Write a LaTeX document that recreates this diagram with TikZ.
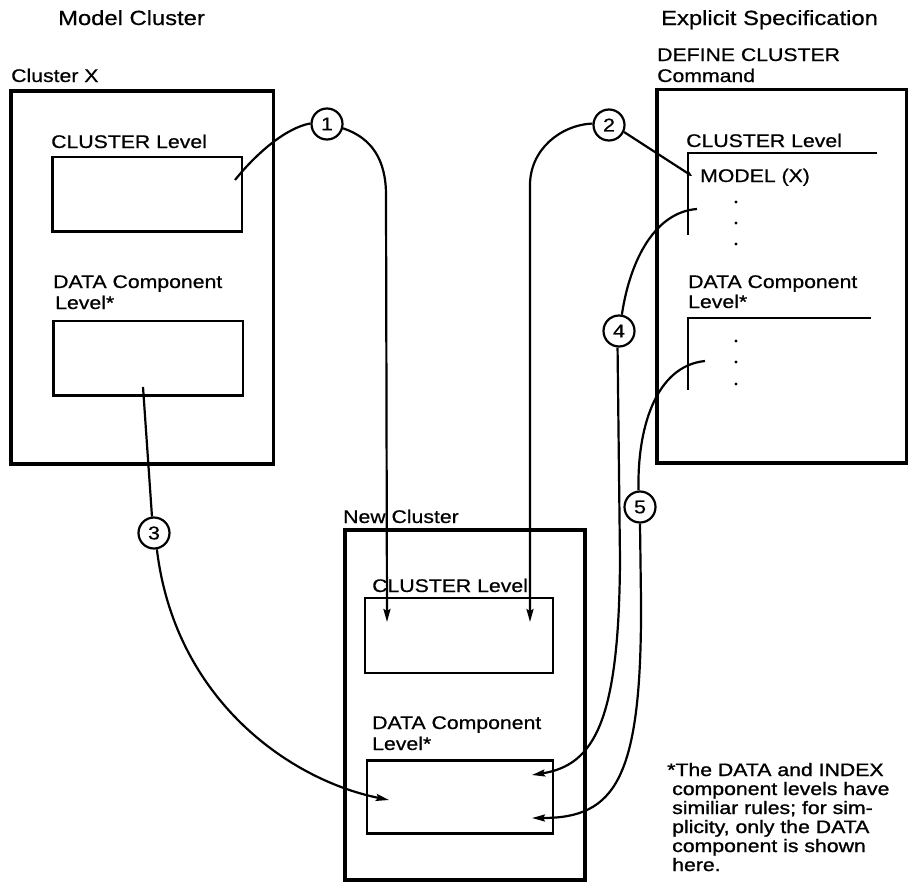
\documentclass[tikz,border=0pt]{standalone}
\usepackage{fontspec}
\setmainfont[FakeStretch=1.16,FakeBold=0.6]{Liberation Sans}
\newfontfamily\notefont[FakeStretch=1.18,FakeBold=1.2]{Liberation Sans}
\usetikzlibrary{arrows.meta}
\tikzset{
  outerbox/.style={draw, line width=3.8pt, inner sep=0, outer sep=0, anchor=north west},
  innerbox/.style={draw, line width=2.6pt, inner sep=0, outer sep=0, anchor=north west},
  bracketline/.style={line width=2.3pt},
  conn/.style={line width=2.2pt},
  tipbig/.style={-{Stealth[length=13pt,width=7pt,inset=2pt]}},
  tipsmall/.style={-{Stealth[length=5pt,width=4.5pt]}},
  num/.style={draw, circle, line width=2.2pt, minimum size=31pt, inner sep=0, fill=white,
    font=\fontsize{18.5}{20}\selectfont},
  ttl/.style={anchor=base west, inner sep=0, font=\fontsize{20.5}{24}\selectfont},
  lbl/.style={anchor=base west, inner sep=0, font=\fontsize{18.3}{21}\selectfont},
  note/.style={anchor=base west, inner sep=0, font=\notefont\fontsize{18}{19}\selectfont},
}
\begin{document}
\begin{tikzpicture}[x=1pt,y=-1pt]
\fill[white] (0,0) rectangle (915,886);
\useasboundingbox (0,0) rectangle (915,886);

% titles
\node[ttl] (tmodel) at (58,25) {Model Cluster};
\node[ttl] (texpl) at (661,25) {Explicit Specification};

% Cluster X
\node[lbl] (lclx) at (11,82) {Cluster X};
\node[outerbox, minimum width=262.5pt, minimum height=373pt] (cx) at (11,91) {};
\node[lbl] (lcxc) at (51,148) {CLUSTER Level};
\node[innerbox, minimum width=189.5pt, minimum height=74.5pt] (cxc) at (52.5,157) {};
\node[lbl] (lcxd1) at (53,288) {DATA Component};
\node[lbl] (lcxd2) at (55,309) {Level*};
\node[innerbox, minimum width=189.5pt, minimum height=74.5pt] (cxd) at (53.5,321) {};

% DEFINE CLUSTER command
\node[lbl] (ldef1) at (657,61) {DEFINE CLUSTER};
\node[lbl] (ldef2) at (657,82) {Command};
\node[outerbox, minimum width=249.5pt, minimum height=373.5pt] (def) at (657,89.5) {};
\node[lbl] (ldefc) at (686,147) {CLUSTER Level};
\draw[bracketline] (877,153) -- (688,153) -- (688,235);
\node[lbl] (lmodel) at (700,182) {MODEL (X)};
\foreach \yy in {202,223,244} \fill (736,\yy) circle (1.6pt);
\node[lbl] (ldefd1) at (688,288) {DATA Component};
\node[lbl] (ldefd2) at (688,308) {Level*};
\draw[bracketline] (871,318) -- (688,318) -- (688,390);
\foreach \yy in {341,362,384} \fill (736,\yy) circle (1.6pt);

% New Cluster
\node[lbl] (lnew) at (343,523) {New Cluster};
\node[outerbox, minimum width=240pt, minimum height=350pt] (nc) at (345,530) {};
\node[lbl] (lncc) at (372,592) {CLUSTER Level};
\node[innerbox, minimum width=188pt, minimum height=75pt] (ncc) at (365,598) {};
\node[lbl] (lncd1) at (372,729) {DATA Component};
\node[lbl] (lncd2) at (372,750) {Level*};
\node[innerbox, minimum width=186pt, minimum height=73pt] (ncd) at (367,760.5) {};

% footnote
\node[note] (n1) at (667,776) {*The DATA and INDEX};
\node[note] (n2) at (672,795) {component levels have};
\node[note] (n3) at (672,814) {similiar rules; for sim-};
\node[note] (n4) at (672,833) {plicity, only the DATA};
\node[note] (n5) at (672,852) {component is shown};
\node[note] (n6) at (672,871) {here.};

% connector end points
\coordinate (s1) at (235,180);
\coordinate (t1) at (387,622);
\coordinate (t2) at (530,622);
\coordinate (m2) at (692,176);
\coordinate (s3) at (143,387);
\coordinate (t3) at (389,800);
\coordinate (e4) at (697,209);
\coordinate (t4) at (532,775);
\coordinate (e5) at (705,361);
\coordinate (t5) at (532,818);

% circles
\node[num] (c1) at (327,124) {1};
\node[num] (c2) at (609,125) {2};
\node[num] (c3) at (154,533) {3};
\node[num] (c4) at (619,331) {4};
\node[num] (c5) at (640,507) {5};

% connectors
\draw[conn] (s1) .. controls (255,155) and (285,128) .. (c1.178);
\draw[conn,tipbig] (c1.-15) .. controls (372,138) and (386,160) .. (386,195) -- (t1);

\draw[conn,tipbig] (c2.175) .. controls (560,125) and (530,150) .. (530,185) -- (t2);
\draw[conn,tipsmall] (c2.-25) -- (m2);

\draw[conn] (s3) -- (c3.97);
\draw[conn,tipbig] (c3.-80) .. controls (175,700) and (290,780) .. (t3);

\draw[conn] (c4.80) .. controls (630,260) and (655,212) .. (e4);
\draw[conn,tipbig] (c4.-95) -- (620,560) .. controls (619,720) and (595,765) .. (t4);

\draw[conn] (c5.95) .. controls (637,430) and (655,366) .. (e5);
\draw[conn,tipbig] (c5.-90) -- (641,600) .. controls (642,780) and (615,818) .. (t5);
\end{tikzpicture}
\end{document}
